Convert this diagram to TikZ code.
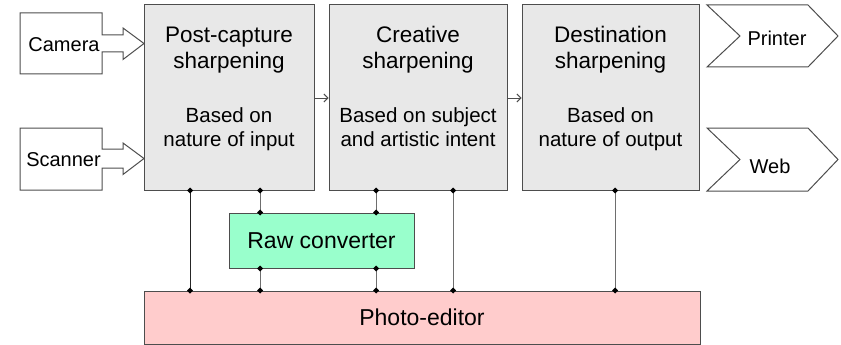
\documentclass[tikz,border=0pt]{standalone}
\usepackage{fontspec}
\setmainfont{Liberation Sans}
\usetikzlibrary{arrows.meta}
\definecolor{boxgray}{HTML}{E8E8E8}
\definecolor{rawgreen}{HTML}{99FFCC}
\definecolor{editpink}{HTML}{FFCCCC}
\definecolor{edgecol}{HTML}{4D4D4D}
\definecolor{wirecol}{HTML}{6E6E6E}
\newcommand\jdot[1]{\fill[black] (#1) +(-3,0) -- +(0,-3) -- +(3,0) -- +(0,3) -- cycle;}
\tikzset{
  stagebox/.style={draw=edgecol, line width=1pt, fill=boxgray, minimum height=185pt, inner sep=0pt},
  rawbox/.style={draw=edgecol, line width=1pt, fill=rawgreen, minimum width=185pt, minimum height=55pt, inner sep=0pt, font=\fontsize{23}{27}\selectfont},
  editbox/.style={draw=edgecol, line width=1pt, fill=editpink, minimum width=556pt, minimum height=53pt, inner sep=0pt, font=\fontsize{23}{27}\selectfont},
  ttl/.style={anchor=base, inner sep=0pt, font=\fontsize{22.5}{27}\selectfont},
  sub/.style={anchor=base, inner sep=0pt, font=\fontsize{20.5}{25}\selectfont},
  lbl/.style={inner sep=0pt, font=\fontsize{20}{24}\selectfont},
  shapeline/.style={draw=edgecol, line width=1pt, fill=white, line join=miter},
  flow/.style={draw=edgecol, line width=0.9pt, -{Straight Barb[length=4pt,width=8pt]}},
  wire/.style={draw=wirecol, line width=1pt},
  darkwire/.style={draw=black!85, line width=1pt},
}
\begin{document}
\begin{tikzpicture}[x=1pt,y=-1pt]
\useasboundingbox (0,0) rectangle (841,345);

% sources
\path[shapeline] (102,35) -- (102,13) -- (20,13) -- (20,74) -- (102,74) -- (102,52) -- (123,52) -- (123,59.5) -- (144,43.5) -- (123,28) -- (123,35) -- cycle;
\node[lbl] (cam) at (64,45) {Camera};
\path[shapeline] (102,149) -- (102,128) -- (20,128) -- (20,190) -- (102,190) -- (102,168) -- (123,168) -- (123,174.5) -- (144,158.5) -- (123,143) -- (123,149) -- cycle;
\node[lbl] (scn) at (63.5,160) {Scanner};

% stages
\node[stagebox, minimum width=170pt] (pc) at (229,97.5) {};
\node[stagebox, minimum width=178pt] (cr) at (418,97.5) {};
\node[stagebox, minimum width=177pt] (ds) at (610.5,97.5) {};

\node[ttl] (pc1) at (229,43) {Post-capture};
\node[ttl] (pc2) at (229,69) {sharpening};
\node[sub] (pc3) at (229,122.5) {Based on};
\node[sub] (pc4) at (229,146.5) {nature of input};

\node[ttl] (cr1) at (418,43) {Creative};
\node[ttl] (cr2) at (418,69) {sharpening};
\node[sub] (cr3) at (418,122.5) {Based on subject};
\node[sub] (cr4) at (418,146.5) {and artistic intent};

\node[ttl] (ds1) at (610.5,43) {Destination};
\node[ttl] (ds2) at (610.5,69) {sharpening};
\node[sub] (ds3) at (610.5,122.5) {Based on};
\node[sub] (ds4) at (610.5,146.5) {nature of output};

\draw[flow] (pc.east |- 0,98) -- (cr.west |- 0,98);
\draw[flow] (cr.east |- 0,98) -- (ds.west |- 0,98);

% outputs
\path[shapeline] (707,5) -- (808,5) -- (838,36) -- (808,67) -- (707,67) -- (740,36) -- cycle;
\node[lbl] (prn) at (777,38) {Printer};
\path[shapeline] (707,128) -- (808,128) -- (838,159.5) -- (808,191) -- (707,191) -- (740,159.5) -- cycle;
\node[lbl] (web) at (770,166) {Web};

% tools
\node[rawbox] (raw) at (321.5,240.5) {Raw converter};
\node[editbox] (pe) at (422,317.5) {Photo-editor};

\coordinate (xa) at (190,0);
\coordinate (xb) at (260,0);
\coordinate (xc) at (376,0);
\coordinate (xd) at (453,0);
\coordinate (xe) at (615,0);

\draw[darkwire] (xa |- pc.south) -- (xa |- pe.north);
\draw[wire] (xb |- pc.south) -- (xb |- raw.north);
\draw[wire] (xb |- raw.south) -- (xb |- pe.north);
\draw[wire] (xc |- cr.south) -- (xc |- raw.north);
\draw[wire] (xc |- raw.south) -- (xc |- pe.north);
\draw[wire] (xd |- cr.south) -- (xd |- pe.north);
\draw[wire] (xe |- ds.south) -- (xe |- pe.north);

\jdot{xa |- pc.south} \jdot{xa |- pe.north}
\jdot{xb |- pc.south} \jdot{xb |- raw.north} \jdot{xb |- raw.south} \jdot{xb |- pe.north}
\jdot{xc |- cr.south} \jdot{xc |- raw.north} \jdot{xc |- raw.south} \jdot{xc |- pe.north}
\jdot{xd |- cr.south} \jdot{xd |- pe.north}
\jdot{xe |- ds.south} \jdot{xe |- pe.north}
\end{tikzpicture}
\end{document}
